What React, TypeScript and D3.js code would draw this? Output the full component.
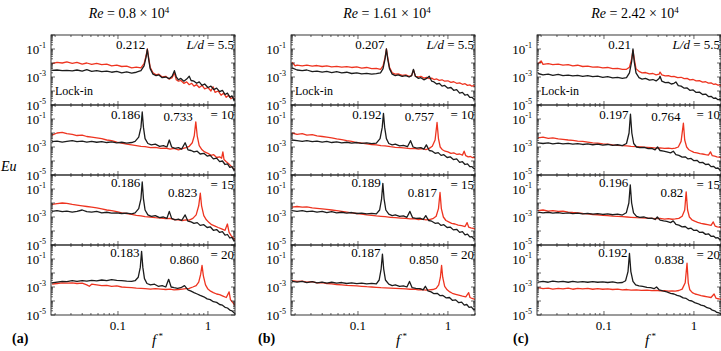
import React from "react";
import * as d3 from "d3";

type Pt = [number, number]; // [f*, log10 Eu]

const reynolds = ["0.8", "1.61", "2.42"];
const panelTags = ["(a)", "(b)", "(c)"];
const spacings = ["5.5", "10", "15", "20"];
const blackPeaks = [
  ["0.212", "0.186", "0.186", "0.183"],
  ["0.207", "0.192", "0.189", "0.187"],
  ["0.21", "0.197", "0.196", "0.192"],
];
const redPeaks = [
  [null, "0.733", "0.823", "0.860"],
  [null, "0.757", "0.817", "0.850"],
  [null, "0.764", "0.82", "0.838"],
];
const xTickLabels = [0.1, 1];
const yTickExps = [-1, -3, -5];

// ---- Re = 0.8e4 ----
const aK55: Pt[] = [[0.0185,-2.52],[0.021,-2.5],[0.024,-2.55],[0.027,-2.52],[0.031,-2.56],[0.035,-2.5],[0.04,-2.58],[0.045,-2.48],[0.051,-2.6],[0.058,-2.55],[0.066,-2.62],[0.075,-2.58],[0.085,-2.66],[0.097,-2.6],[0.11,-2.7],[0.125,-2.64],[0.142,-2.72],[0.16,-2.66],[0.18,-2.55],[0.195,-2.2],[0.205,-1.6],[0.212,-1.02],[0.219,-1.7],[0.228,-2.4],[0.245,-2.8],[0.265,-2.9],[0.285,-2.85],[0.31,-3.05],[0.34,-3.0],[0.37,-3.12],[0.4,-2.95],[0.424,-2.55],[0.445,-3.0],[0.47,-3.2],[0.5,-3.1],[0.54,-3.3],[0.58,-3.15],[0.62,-2.95],[0.65,-3.25],[0.7,-3.3],[0.75,-3.45],[0.8,-3.35],[0.86,-3.6],[0.92,-3.5],[1.0,-3.75],[1.08,-3.65],[1.16,-3.9],[1.25,-3.8],[1.35,-4.05],[1.45,-3.95],[1.55,-4.25],[1.65,-4.15],[1.75,-4.45],[1.85,-4.35],[1.95,-4.65],[2.05,-4.55]];
const aR55: Pt[] = [[0.0185,-2.05],[0.021,-1.95],[0.024,-2.0],[0.027,-1.92],[0.031,-2.02],[0.035,-1.95],[0.04,-2.08],[0.045,-2.0],[0.051,-2.1],[0.058,-2.02],[0.066,-2.12],[0.075,-2.08],[0.085,-2.2],[0.097,-2.15],[0.11,-2.25],[0.125,-2.22],[0.142,-2.35],[0.16,-2.3],[0.18,-2.35],[0.195,-2.05],[0.205,-1.5],[0.212,-1.0],[0.219,-1.6],[0.228,-2.3],[0.245,-2.7],[0.265,-2.85],[0.285,-2.8],[0.31,-3.0],[0.34,-2.95],[0.37,-3.15],[0.4,-3.05],[0.424,-2.7],[0.445,-3.2],[0.47,-3.3],[0.5,-3.25],[0.54,-3.45],[0.58,-3.35],[0.62,-3.55],[0.66,-3.45],[0.7,-3.65],[0.75,-3.55],[0.8,-3.75],[0.86,-3.6],[0.92,-3.85],[1.0,-3.75],[1.08,-4.0],[1.14,-3.7],[1.2,-4.1],[1.3,-4.0],[1.4,-4.3],[1.5,-4.15],[1.6,-4.45],[1.7,-4.3],[1.8,-4.55],[1.9,-4.45],[2.05,-4.7]];
const aK10: Pt[] = [[0.0185,-2.62],[0.021,-2.58],[0.024,-2.65],[0.027,-2.6],[0.031,-2.55],[0.035,-2.62],[0.04,-2.58],[0.045,-2.65],[0.051,-2.6],[0.058,-2.66],[0.066,-2.62],[0.075,-2.68],[0.085,-2.64],[0.097,-2.7],[0.11,-2.66],[0.125,-2.72],[0.142,-2.68],[0.155,-2.6],[0.17,-2.3],[0.18,-1.6],[0.186,-0.5],[0.192,-1.6],[0.2,-2.4],[0.215,-2.75],[0.235,-2.85],[0.26,-2.8],[0.29,-2.95],[0.32,-2.9],[0.35,-3.0],[0.372,-2.5],[0.395,-3.0],[0.43,-3.1],[0.47,-3.05],[0.51,-3.15],[0.558,-2.7],[0.6,-3.2],[0.65,-3.25],[0.7,-3.35],[0.76,-3.3],[0.82,-3.5],[0.9,-3.45],[0.98,-3.65],[1.06,-3.6],[1.15,-3.85],[1.25,-3.8],[1.35,-4.05],[1.45,-4.0],[1.55,-4.25],[1.65,-4.2],[1.75,-4.45],[1.85,-4.4],[1.95,-4.65],[2.05,-4.6]];
const aR10: Pt[] = [[0.0185,-2.15],[0.021,-2.0],[0.024,-1.95],[0.027,-2.05],[0.031,-2.1],[0.035,-2.18],[0.04,-2.15],[0.045,-2.25],[0.051,-2.3],[0.058,-2.35],[0.066,-2.4],[0.075,-2.5],[0.085,-2.55],[0.097,-2.65],[0.11,-2.72],[0.125,-2.8],[0.142,-2.85],[0.16,-2.9],[0.18,-2.95],[0.2,-2.98],[0.23,-3.05],[0.26,-3.02],[0.3,-3.1],[0.34,-3.08],[0.38,-3.15],[0.42,-3.1],[0.47,-3.2],[0.52,-3.12],[0.57,-3.05],[0.62,-2.95],[0.67,-2.7],[0.705,-2.2],[0.733,-1.2],[0.76,-2.2],[0.8,-2.9],[0.86,-3.2],[0.92,-3.35],[1.0,-3.45],[1.08,-3.6],[1.16,-3.55],[1.25,-3.75],[1.35,-3.7],[1.42,-3.8],[1.466,-3.35],[1.51,-3.9],[1.6,-4.05],[1.7,-4.2],[1.8,-4.35],[1.9,-4.5],[2.05,-4.7]];
const aK15: Pt[] = [[0.0185,-2.6],[0.021,-2.55],[0.024,-2.62],[0.027,-2.58],[0.031,-2.65],[0.035,-2.6],[0.04,-2.5],[0.045,-2.62],[0.051,-2.65],[0.058,-2.6],[0.066,-2.7],[0.075,-2.66],[0.085,-2.72],[0.097,-2.7],[0.11,-2.75],[0.125,-2.72],[0.142,-2.78],[0.155,-2.7],[0.17,-2.4],[0.18,-1.7],[0.186,-0.5],[0.192,-1.7],[0.2,-2.5],[0.215,-2.85],[0.235,-2.95],[0.26,-2.9],[0.29,-3.05],[0.32,-3.0],[0.35,-3.1],[0.372,-2.6],[0.395,-3.1],[0.43,-3.2],[0.47,-3.15],[0.51,-3.25],[0.558,-2.85],[0.6,-3.3],[0.65,-3.35],[0.7,-3.45],[0.76,-3.4],[0.82,-3.6],[0.9,-3.55],[0.98,-3.75],[1.06,-3.7],[1.15,-3.95],[1.25,-3.9],[1.35,-4.1],[1.45,-4.05],[1.55,-4.3],[1.65,-4.25],[1.75,-4.5],[1.85,-4.45],[1.95,-4.7],[2.05,-4.65]];
const aR15: Pt[] = [[0.0185,-2.1],[0.021,-2.05],[0.024,-2.0],[0.027,-2.02],[0.031,-2.1],[0.035,-2.15],[0.04,-2.2],[0.045,-2.25],[0.051,-2.3],[0.058,-2.35],[0.066,-2.42],[0.075,-2.5],[0.085,-2.55],[0.097,-2.62],[0.11,-2.7],[0.125,-2.75],[0.142,-2.82],[0.16,-2.88],[0.18,-2.92],[0.2,-2.97],[0.23,-3.0],[0.26,-3.05],[0.3,-3.08],[0.34,-3.12],[0.38,-3.1],[0.42,-3.18],[0.47,-3.2],[0.52,-3.25],[0.57,-3.2],[0.62,-3.22],[0.68,-3.1],[0.74,-2.85],[0.79,-2.2],[0.823,-1.3],[0.85,-2.2],[0.9,-2.9],[0.96,-3.2],[1.03,-3.4],[1.1,-3.55],[1.2,-3.65],[1.3,-3.75],[1.42,-3.85],[1.55,-3.95],[1.646,-3.5],[1.72,-4.1],[1.82,-4.35],[1.92,-4.5],[2.05,-4.7]];
const aK20: Pt[] = [[0.0185,-2.7],[0.021,-2.65],[0.024,-2.6],[0.027,-2.62],[0.031,-2.55],[0.035,-2.6],[0.04,-2.55],[0.045,-2.58],[0.051,-2.52],[0.058,-2.56],[0.066,-2.5],[0.075,-2.55],[0.085,-2.48],[0.097,-2.52],[0.11,-2.55],[0.125,-2.58],[0.142,-2.6],[0.155,-2.55],[0.168,-2.3],[0.177,-1.6],[0.183,-0.45],[0.189,-1.6],[0.197,-2.4],[0.21,-2.75],[0.23,-2.85],[0.255,-2.8],[0.28,-2.95],[0.31,-2.9],[0.34,-3.0],[0.366,-2.45],[0.39,-3.0],[0.42,-3.05],[0.46,-3.1],[0.5,-3.05],[0.549,-2.9],[0.6,-3.2],[0.65,-3.3],[0.7,-3.4],[0.76,-3.5],[0.82,-3.6],[0.9,-3.7],[0.98,-3.85],[1.06,-3.9],[1.15,-4.05],[1.25,-4.1],[1.35,-4.25],[1.45,-4.3],[1.55,-4.45],[1.65,-4.5],[1.75,-4.65],[1.85,-4.7],[1.95,-4.85],[2.05,-4.9]];
const aR20: Pt[] = [[0.0185,-2.8],[0.021,-2.75],[0.024,-2.7],[0.027,-2.72],[0.031,-2.7],[0.035,-2.75],[0.04,-2.72],[0.045,-2.85],[0.048,-2.95],[0.051,-2.8],[0.058,-2.85],[0.066,-2.9],[0.075,-2.88],[0.085,-2.95],[0.097,-2.92],[0.11,-3.0],[0.125,-3.02],[0.142,-3.05],[0.16,-3.08],[0.18,-3.1],[0.2,-3.12],[0.23,-3.15],[0.26,-3.12],[0.3,-3.15],[0.34,-3.18],[0.38,-3.15],[0.42,-3.2],[0.47,-3.18],[0.52,-3.15],[0.57,-3.12],[0.62,-3.1],[0.68,-3.0],[0.74,-2.9],[0.79,-2.65],[0.83,-2.1],[0.86,-1.45],[0.89,-2.2],[0.94,-2.85],[1.0,-3.15],[1.07,-3.3],[1.15,-3.4],[1.25,-3.5],[1.35,-3.55],[1.47,-3.65],[1.6,-3.75],[1.72,-3.35],[1.78,-3.9],[1.88,-4.1],[1.97,-4.25],[2.05,-4.35]];

// ---- Re = 1.61e4 ----
const bK55: Pt[] = [[0.0185,-2.35],[0.021,-2.5],[0.024,-2.55],[0.027,-2.5],[0.031,-2.62],[0.035,-2.58],[0.04,-2.65],[0.045,-2.6],[0.051,-2.68],[0.058,-2.62],[0.066,-2.7],[0.075,-2.66],[0.085,-2.75],[0.097,-2.7],[0.11,-2.78],[0.125,-2.74],[0.142,-2.8],[0.16,-2.76],[0.178,-2.7],[0.19,-2.4],[0.2,-1.7],[0.207,-1.0],[0.214,-1.7],[0.224,-2.4],[0.24,-2.8],[0.26,-2.9],[0.28,-2.85],[0.31,-2.95],[0.34,-2.9],[0.37,-3.0],[0.395,-2.9],[0.414,-2.45],[0.435,-2.95],[0.47,-3.1],[0.5,-3.05],[0.54,-3.2],[0.58,-3.1],[0.62,-2.95],[0.66,-3.3],[0.7,-3.35],[0.75,-3.5],[0.8,-3.45],[0.86,-3.65],[0.92,-3.6],[1.0,-3.8],[1.08,-3.75],[1.16,-3.95],[1.25,-3.9],[1.35,-4.15],[1.45,-4.1],[1.55,-4.3],[1.65,-4.25],[1.75,-4.45],[1.85,-4.45],[1.95,-4.6],[2.05,-4.6]];
const bR55: Pt[] = [[0.0185,-1.95],[0.02,-2.2],[0.021,-2.15],[0.024,-2.2],[0.027,-2.15],[0.031,-2.22],[0.035,-2.18],[0.04,-2.25],[0.045,-2.2],[0.051,-2.28],[0.058,-2.24],[0.066,-2.3],[0.075,-2.26],[0.085,-2.32],[0.097,-2.28],[0.11,-2.36],[0.125,-2.32],[0.142,-2.4],[0.16,-2.38],[0.178,-2.45],[0.19,-2.2],[0.2,-1.6],[0.207,-1.0],[0.214,-1.6],[0.224,-2.3],[0.24,-2.7],[0.26,-2.8],[0.28,-2.78],[0.31,-2.88],[0.34,-2.85],[0.37,-2.95],[0.395,-2.9],[0.414,-2.5],[0.435,-2.95],[0.47,-3.0],[0.5,-2.95],[0.54,-3.08],[0.58,-3.02],[0.62,-3.12],[0.66,-3.08],[0.7,-3.18],[0.75,-3.14],[0.8,-3.24],[0.86,-3.2],[0.92,-3.3],[1.0,-3.27],[1.08,-3.38],[1.16,-3.34],[1.25,-3.45],[1.35,-3.42],[1.45,-3.52],[1.55,-3.48],[1.65,-3.6],[1.75,-3.56],[1.85,-3.66],[1.95,-3.62],[2.05,-3.72]];
const bK10: Pt[] = [[0.0185,-2.5],[0.021,-2.55],[0.024,-2.6],[0.027,-2.55],[0.031,-2.62],[0.035,-2.58],[0.04,-2.65],[0.045,-2.6],[0.051,-2.68],[0.058,-2.64],[0.066,-2.7],[0.075,-2.66],[0.085,-2.72],[0.097,-2.68],[0.11,-2.74],[0.125,-2.7],[0.142,-2.76],[0.16,-2.72],[0.176,-2.4],[0.186,-1.6],[0.192,-0.6],[0.198,-1.6],[0.207,-2.4],[0.22,-2.75],[0.24,-2.85],[0.26,-2.8],[0.29,-2.92],[0.32,-2.88],[0.355,-2.98],[0.384,-2.55],[0.41,-3.0],[0.45,-3.08],[0.5,-3.05],[0.54,-3.15],[0.576,-2.85],[0.62,-3.25],[0.67,-3.3],[0.72,-3.45],[0.78,-3.4],[0.84,-3.6],[0.9,-3.55],[0.98,-3.75],[1.06,-3.7],[1.15,-3.9],[1.25,-3.85],[1.35,-4.1],[1.45,-4.05],[1.55,-4.25],[1.65,-4.2],[1.75,-4.4],[1.85,-4.4],[1.95,-4.55],[2.05,-4.6]];
const bR10: Pt[] = [[0.0185,-2.0],[0.021,-2.1],[0.024,-2.05],[0.027,-2.15],[0.031,-2.12],[0.035,-2.2],[0.04,-2.25],[0.045,-2.3],[0.051,-2.35],[0.058,-2.42],[0.066,-2.48],[0.075,-2.55],[0.085,-2.6],[0.097,-2.68],[0.11,-2.72],[0.125,-2.78],[0.142,-2.82],[0.16,-2.85],[0.18,-2.9],[0.2,-2.92],[0.23,-2.98],[0.26,-3.02],[0.3,-3.05],[0.34,-3.08],[0.38,-3.12],[0.42,-3.1],[0.47,-3.15],[0.52,-3.12],[0.57,-3.18],[0.62,-3.1],[0.67,-2.95],[0.72,-2.5],[0.757,-1.25],[0.785,-2.4],[0.82,-3.0],[0.87,-3.2],[0.93,-3.3],[1.0,-3.35],[1.08,-3.45],[1.16,-3.42],[1.25,-3.52],[1.35,-3.5],[1.45,-3.58],[1.514,-3.3],[1.58,-3.62],[1.68,-3.7],[1.78,-3.68],[1.88,-3.76],[1.97,-3.74],[2.05,-3.8]];
const bK15: Pt[] = [[0.0185,-2.55],[0.021,-2.6],[0.024,-2.55],[0.027,-2.62],[0.031,-2.58],[0.035,-2.65],[0.04,-2.6],[0.045,-2.68],[0.051,-2.62],[0.058,-2.7],[0.066,-2.66],[0.075,-2.72],[0.085,-2.68],[0.097,-2.75],[0.11,-2.72],[0.125,-2.78],[0.142,-2.74],[0.16,-2.78],[0.174,-2.5],[0.183,-1.7],[0.189,-0.6],[0.195,-1.7],[0.204,-2.5],[0.22,-2.8],[0.24,-2.9],[0.26,-2.85],[0.29,-2.95],[0.32,-2.92],[0.35,-3.02],[0.378,-2.6],[0.405,-3.05],[0.44,-3.1],[0.49,-3.08],[0.53,-3.18],[0.567,-2.9],[0.61,-3.25],[0.66,-3.3],[0.72,-3.45],[0.78,-3.42],[0.84,-3.6],[0.9,-3.55],[0.98,-3.75],[1.06,-3.72],[1.15,-3.92],[1.25,-3.88],[1.35,-4.1],[1.45,-4.05],[1.55,-4.28],[1.65,-4.22],[1.75,-4.42],[1.85,-4.4],[1.95,-4.58],[2.05,-4.6]];
const bR15: Pt[] = [[0.0185,-2.3],[0.021,-2.25],[0.024,-2.3],[0.027,-2.28],[0.031,-2.35],[0.035,-2.38],[0.04,-2.42],[0.045,-2.45],[0.051,-2.5],[0.058,-2.55],[0.066,-2.6],[0.075,-2.65],[0.085,-2.7],[0.097,-2.75],[0.11,-2.8],[0.125,-2.85],[0.142,-2.88],[0.16,-2.92],[0.18,-2.95],[0.2,-2.98],[0.23,-3.02],[0.26,-3.05],[0.3,-3.08],[0.34,-3.1],[0.38,-3.14],[0.42,-3.12],[0.47,-3.18],[0.52,-3.15],[0.57,-3.2],[0.62,-3.18],[0.68,-3.12],[0.74,-2.95],[0.785,-2.4],[0.817,-1.25],[0.845,-2.4],[0.89,-3.0],[0.95,-3.25],[1.02,-3.35],[1.1,-3.45],[1.2,-3.5],[1.3,-3.58],[1.42,-3.62],[1.55,-3.68],[1.634,-3.4],[1.7,-3.72],[1.8,-3.78],[1.9,-3.82],[2.05,-3.88]];
const bK20: Pt[] = [[0.0185,-2.6],[0.021,-2.65],[0.024,-2.6],[0.027,-2.68],[0.031,-2.62],[0.035,-2.7],[0.04,-2.65],[0.045,-2.72],[0.051,-2.66],[0.058,-2.72],[0.066,-2.68],[0.075,-2.75],[0.085,-2.7],[0.097,-2.76],[0.11,-2.72],[0.125,-2.78],[0.142,-2.74],[0.16,-2.78],[0.172,-2.5],[0.181,-1.7],[0.187,-0.65],[0.193,-1.7],[0.202,-2.5],[0.22,-2.8],[0.24,-2.9],[0.26,-2.85],[0.29,-2.95],[0.32,-2.92],[0.35,-3.0],[0.374,-2.6],[0.4,-3.05],[0.44,-3.1],[0.49,-3.12],[0.53,-3.2],[0.561,-2.95],[0.6,-3.28],[0.65,-3.35],[0.7,-3.48],[0.76,-3.45],[0.82,-3.62],[0.88,-3.6],[0.96,-3.78],[1.04,-3.75],[1.12,-3.95],[1.22,-3.92],[1.32,-4.12],[1.42,-4.08],[1.52,-4.3],[1.62,-4.25],[1.72,-4.45],[1.82,-4.42],[1.92,-4.6],[2.05,-4.62]];
const bR20: Pt[] = [[0.0185,-2.55],[0.021,-2.6],[0.024,-2.58],[0.027,-2.65],[0.031,-2.62],[0.035,-2.7],[0.04,-2.68],[0.045,-2.75],[0.051,-2.78],[0.058,-2.82],[0.066,-2.85],[0.075,-2.88],[0.085,-2.9],[0.097,-2.92],[0.11,-2.95],[0.125,-2.98],[0.142,-3.0],[0.16,-3.02],[0.18,-3.05],[0.2,-3.06],[0.23,-3.08],[0.26,-3.1],[0.3,-3.12],[0.34,-3.14],[0.38,-3.16],[0.42,-3.15],[0.47,-3.2],[0.52,-3.18],[0.57,-3.22],[0.62,-3.2],[0.68,-3.18],[0.74,-3.1],[0.79,-2.85],[0.825,-2.3],[0.85,-1.45],[0.875,-2.3],[0.92,-2.95],[0.98,-3.2],[1.05,-3.35],[1.12,-3.45],[1.22,-3.52],[1.32,-3.58],[1.45,-3.65],[1.58,-3.7],[1.7,-3.4],[1.76,-3.75],[1.86,-3.82],[1.96,-3.86],[2.05,-3.9]];

// ---- Re = 2.42e4 ----
const cK55: Pt[] = [[0.0185,-2.75],[0.021,-2.85],[0.024,-2.8],[0.027,-2.88],[0.031,-2.82],[0.035,-2.9],[0.04,-2.86],[0.045,-2.92],[0.051,-2.88],[0.058,-2.95],[0.066,-2.9],[0.075,-2.98],[0.085,-2.94],[0.097,-3.02],[0.11,-2.98],[0.125,-3.06],[0.142,-3.02],[0.16,-3.1],[0.178,-3.05],[0.192,-2.7],[0.203,-1.9],[0.21,-1.0],[0.217,-1.9],[0.227,-2.7],[0.245,-3.05],[0.265,-3.15],[0.29,-3.1],[0.32,-3.22],[0.35,-3.18],[0.38,-3.28],[0.41,-3.1],[0.42,-2.95],[0.44,-3.3],[0.48,-3.4],[0.52,-3.38],[0.56,-3.5],[0.6,-3.45],[0.63,-3.35],[0.67,-3.62],[0.72,-3.65],[0.78,-3.8],[0.84,-3.78],[0.9,-3.95],[0.98,-3.92],[1.06,-4.1],[1.15,-4.08],[1.25,-4.25],[1.35,-4.22],[1.45,-4.4],[1.55,-4.38],[1.65,-4.52],[1.75,-4.5],[1.85,-4.62],[1.95,-4.6],[2.05,-4.7]];
const cR55: Pt[] = [[0.0185,-2.05],[0.02,-1.85],[0.021,-2.1],[0.024,-2.05],[0.027,-2.12],[0.031,-2.08],[0.035,-2.15],[0.04,-2.12],[0.045,-2.2],[0.051,-2.16],[0.058,-2.25],[0.066,-2.22],[0.075,-2.3],[0.085,-2.28],[0.097,-2.35],[0.11,-2.32],[0.125,-2.4],[0.142,-2.38],[0.16,-2.45],[0.178,-2.45],[0.192,-2.3],[0.203,-1.7],[0.21,-1.1],[0.217,-1.7],[0.227,-2.4],[0.245,-2.6],[0.265,-2.7],[0.29,-2.68],[0.32,-2.78],[0.35,-2.75],[0.38,-2.85],[0.41,-2.8],[0.42,-2.65],[0.44,-2.85],[0.48,-2.92],[0.52,-2.9],[0.56,-2.98],[0.6,-2.95],[0.66,-3.05],[0.72,-3.02],[0.78,-3.12],[0.84,-3.1],[0.9,-3.2],[0.98,-3.18],[1.06,-3.28],[1.15,-3.26],[1.25,-3.36],[1.35,-3.34],[1.45,-3.44],[1.55,-3.42],[1.65,-3.52],[1.75,-3.5],[1.85,-3.58],[1.95,-3.56],[2.05,-3.64]];
const cK10: Pt[] = [[0.0185,-2.7],[0.021,-2.75],[0.024,-2.7],[0.027,-2.78],[0.031,-2.72],[0.035,-2.78],[0.04,-2.74],[0.045,-2.8],[0.051,-2.76],[0.058,-2.82],[0.066,-2.78],[0.075,-2.84],[0.085,-2.8],[0.097,-2.86],[0.11,-2.82],[0.125,-2.88],[0.142,-2.84],[0.16,-2.9],[0.178,-2.75],[0.19,-2.0],[0.197,-0.65],[0.204,-2.0],[0.214,-2.75],[0.23,-3.0],[0.25,-3.05],[0.28,-3.02],[0.31,-3.12],[0.34,-3.1],[0.37,-3.2],[0.394,-3.0],[0.42,-3.25],[0.46,-3.3],[0.5,-3.35],[0.55,-3.42],[0.59,-3.3],[0.63,-3.55],[0.68,-3.6],[0.74,-3.72],[0.8,-3.7],[0.86,-3.85],[0.93,-3.82],[1.0,-3.98],[1.08,-3.95],[1.16,-4.12],[1.25,-4.1],[1.35,-4.25],[1.45,-4.22],[1.55,-4.4],[1.65,-4.38],[1.75,-4.52],[1.85,-4.5],[1.95,-4.65],[2.05,-4.65]];
const cR10: Pt[] = [[0.0185,-2.35],[0.021,-2.3],[0.024,-2.38],[0.027,-2.35],[0.031,-2.42],[0.035,-2.45],[0.04,-2.5],[0.045,-2.52],[0.051,-2.58],[0.058,-2.6],[0.066,-2.65],[0.075,-2.7],[0.085,-2.72],[0.097,-2.78],[0.11,-2.8],[0.125,-2.85],[0.142,-2.88],[0.16,-2.9],[0.18,-2.92],[0.2,-2.95],[0.23,-2.98],[0.26,-3.0],[0.3,-3.02],[0.34,-3.05],[0.38,-3.08],[0.42,-3.06],[0.47,-3.1],[0.52,-3.08],[0.57,-3.12],[0.62,-3.08],[0.67,-3.0],[0.72,-2.6],[0.764,-1.3],[0.79,-2.5],[0.83,-3.0],[0.88,-3.2],[0.94,-3.3],[1.0,-3.38],[1.08,-3.42],[1.16,-3.48],[1.25,-3.5],[1.35,-3.55],[1.45,-3.58],[1.528,-3.35],[1.6,-3.62],[1.7,-3.66],[1.8,-3.7],[1.9,-3.72],[2.05,-3.78]];
const cK15: Pt[] = [[0.0185,-2.65],[0.021,-2.7],[0.024,-2.66],[0.027,-2.72],[0.031,-2.68],[0.035,-2.74],[0.04,-2.7],[0.045,-2.76],[0.051,-2.72],[0.058,-2.78],[0.066,-2.74],[0.075,-2.8],[0.085,-2.76],[0.097,-2.82],[0.11,-2.78],[0.125,-2.84],[0.142,-2.8],[0.16,-2.86],[0.177,-2.7],[0.189,-2.0],[0.196,-0.7],[0.203,-2.0],[0.213,-2.7],[0.23,-2.95],[0.25,-3.02],[0.28,-3.0],[0.31,-3.1],[0.34,-3.08],[0.37,-3.18],[0.392,-3.0],[0.42,-3.22],[0.46,-3.28],[0.5,-3.32],[0.55,-3.4],[0.588,-3.28],[0.63,-3.52],[0.68,-3.58],[0.74,-3.7],[0.8,-3.68],[0.86,-3.84],[0.93,-3.8],[1.0,-3.96],[1.08,-3.94],[1.16,-4.1],[1.25,-4.08],[1.35,-4.24],[1.45,-4.2],[1.55,-4.38],[1.65,-4.36],[1.75,-4.5],[1.85,-4.48],[1.95,-4.62],[2.05,-4.62]];
const cR15: Pt[] = [[0.0185,-2.55],[0.021,-2.5],[0.024,-2.58],[0.027,-2.55],[0.031,-2.6],[0.035,-2.58],[0.04,-2.65],[0.045,-2.68],[0.051,-2.7],[0.058,-2.75],[0.066,-2.78],[0.075,-2.82],[0.085,-2.84],[0.097,-2.88],[0.11,-2.9],[0.125,-2.94],[0.142,-2.96],[0.16,-2.98],[0.18,-3.0],[0.2,-3.02],[0.23,-3.05],[0.26,-3.06],[0.3,-3.08],[0.34,-3.1],[0.38,-3.12],[0.42,-3.1],[0.47,-3.15],[0.52,-3.12],[0.57,-3.16],[0.62,-3.14],[0.68,-3.1],[0.74,-2.95],[0.79,-2.5],[0.82,-1.2],[0.85,-2.5],[0.89,-3.0],[0.95,-3.2],[1.02,-3.3],[1.1,-3.38],[1.2,-3.45],[1.3,-3.5],[1.42,-3.55],[1.55,-3.6],[1.64,-3.35],[1.72,-3.65],[1.82,-3.7],[1.92,-3.72],[2.05,-3.78]];
const cK20: Pt[] = [[0.0185,-2.65],[0.021,-2.6],[0.024,-2.66],[0.027,-2.58],[0.031,-2.64],[0.035,-2.6],[0.04,-2.66],[0.045,-2.6],[0.051,-2.65],[0.058,-2.62],[0.066,-2.66],[0.075,-2.62],[0.085,-2.66],[0.097,-2.64],[0.11,-2.68],[0.125,-2.64],[0.142,-2.7],[0.16,-2.68],[0.174,-2.55],[0.185,-1.9],[0.192,-0.6],[0.199,-1.9],[0.21,-2.6],[0.225,-2.85],[0.245,-2.92],[0.27,-2.95],[0.3,-3.02],[0.33,-3.05],[0.36,-3.12],[0.384,-3.0],[0.41,-3.2],[0.45,-3.28],[0.5,-3.35],[0.55,-3.45],[0.6,-3.5],[0.65,-3.6],[0.7,-3.65],[0.76,-3.78],[0.82,-3.82],[0.88,-3.95],[0.95,-4.0],[1.02,-4.12],[1.1,-4.18],[1.2,-4.3],[1.3,-4.35],[1.4,-4.48],[1.5,-4.52],[1.6,-4.65],[1.7,-4.7],[1.8,-4.82],[1.9,-4.85],[2.05,-4.95]];
const cR20: Pt[] = [[0.0185,-3.05],[0.021,-3.12],[0.024,-3.08],[0.027,-3.15],[0.031,-3.1],[0.035,-3.14],[0.04,-3.08],[0.045,-3.16],[0.051,-3.1],[0.058,-3.14],[0.066,-3.1],[0.075,-3.16],[0.085,-3.12],[0.097,-3.16],[0.11,-3.14],[0.125,-3.18],[0.142,-3.15],[0.16,-3.2],[0.18,-3.18],[0.2,-3.22],[0.23,-3.2],[0.26,-3.24],[0.3,-3.22],[0.34,-3.26],[0.38,-3.24],[0.42,-3.28],[0.47,-3.26],[0.52,-3.3],[0.57,-3.28],[0.62,-3.3],[0.68,-3.25],[0.74,-3.15],[0.8,-2.7],[0.838,-1.3],[0.865,-2.7],[0.9,-3.2],[0.96,-3.4],[1.03,-3.5],[1.1,-3.55],[1.2,-3.62],[1.3,-3.66],[1.42,-3.7],[1.55,-3.75],[1.676,-3.5],[1.76,-3.8],[1.86,-3.84],[1.96,-3.86],[2.05,-3.9]];

const spectra: [Pt[], Pt[]][][] = [
  [[aK55, aR55], [aK10, aR10], [aK15, aR15], [aK20, aR20]],
  [[bK55, bR55], [bK10, bR10], [bK15, bR15], [bK20, bR20]],
  [[cK55, cR55], [cK10, cR10], [cK15, cR15], [cK20, cR20]],
];

// layout
const W = 721;
const H = 351;
const panelLeft = [51, 291, 537];
const panelW = 184;
const plotTop = 35;
const rowH = 70;
const titleX = [129, 387, 635];
const tagX = [12, 258, 513];
const fX = [152, 396, 645];
const blackLabelDy = [14, 14, 12, 12];
const redLabelDy = [0, 16, 22, 19];
const BLACK = "#1c1c1c";
const RED = "#ee3420";
const FONT = '"Liberation Serif", "Times New Roman", "DejaVu Serif", serif';

export default function App() {
  return (
    <svg
      width={W}
      height={H}
      style={{ position: "absolute", left: 0, top: 0, background: "#fff", fontFamily: FONT }}
    >
      <rect width={W} height={H} fill="#fff" />
      <text x={1} y={171} fontSize={14} fontStyle="italic">
        Eu
      </text>
      {spectra.map((col, ci) => {
        const left = panelLeft[ci];
        const right = left + panelW;
        const x = d3.scaleLog().domain([0.018, 2.0]).range([left, right]);
        const xt = x.ticks();
        const bottom = plotTop + rowH * col.length;
        return (
          <g key={ci}>
            <text x={titleX[ci]} y={18} fontSize={14} textAnchor="middle">
              <tspan fontStyle="italic">Re</tspan> = {reynolds[ci]} × 10
              <tspan dy={-5} fontSize={9}>4</tspan>
            </text>
            {col.map(([blk, red], ri) => {
              const y0 = plotTop + ri * rowH;
              const y = d3.scaleLog().domain([1e-5, 1]).range([y0 + rowH, y0]);
              const yt = y.ticks();
              const line = d3
                .line<Pt>()
                .x((d) => x(d[0]))
                .y((d) => y(Math.pow(10, d[1])));
              const clipId = `clip-${ci}-${ri}`;
              const bPeak = blackPeaks[ci][ri];
              const rPeak = redPeaks[ci][ri];
              return (
                <g key={ri}>
                  <clipPath id={clipId}>
                    <rect x={left} y={y0} width={panelW} height={rowH} />
                  </clipPath>
                  <g clipPath={`url(#${clipId})`} fill="none" strokeWidth={1.3} strokeLinejoin="round">
                    <path d={line(red) ?? ""} stroke={RED} />
                    <path d={line(blk) ?? ""} stroke={BLACK} />
                  </g>
                  <rect x={left} y={y0} width={panelW} height={rowH} fill="none" stroke="#222" strokeWidth={0.9} />
                  {yt.map((v, k) => {
                    const major = Math.abs(Math.log10(v) - Math.round(Math.log10(v))) < 1e-6;
                    const len = major ? 4 : 2;
                    return (
                      <g key={k} stroke="#222" strokeWidth={0.7}>
                        <line x1={left} x2={left + len} y1={y(v)} y2={y(v)} />
                        <line x1={right} x2={right - len} y1={y(v)} y2={y(v)} />
                      </g>
                    );
                  })}
                  {xt.map((v, k) => {
                    const major = Math.abs(Math.log10(v) - Math.round(Math.log10(v))) < 1e-6;
                    const len = major ? 4 : 2;
                    return (
                      <g key={k} stroke="#222" strokeWidth={0.7}>
                        <line x1={x(v)} x2={x(v)} y1={y0 + rowH} y2={y0 + rowH - len} />
                        <line x1={x(v)} x2={x(v)} y1={y0} y2={y0 + len} />
                      </g>
                    );
                  })}
                  {yTickExps.map((e) => (
                    <text key={e} x={left - 5} y={y(Math.pow(10, e)) + 5} fontSize={13} textAnchor="end">
                      10<tspan dy={-6} fontSize={8}>{e}</tspan>
                    </text>
                  ))}
                  <text x={x(parseFloat(bPeak)) - 2} y={y0 + blackLabelDy[ri]} fontSize={13} textAnchor="end">
                    {bPeak}
                  </text>
                  {rPeak && (
                    <text x={x(parseFloat(rPeak)) - 3} y={y0 + redLabelDy[ri]} fontSize={13} textAnchor="end">
                      {rPeak}
                    </text>
                  )}
                  <text x={right - 1} y={y0 + 14} fontSize={13} textAnchor="end">
                    {ri === 0 && <tspan fontStyle="italic">L/d</tspan>}
                    {ri === 0 ? ` = ${spacings[ri]}` : `= ${spacings[ri]}`}
                  </text>
                  {ri === 0 && (
                    <text x={left + 4} y={y0 + rowH - 10} fontSize={12}>
                      Lock-in
                    </text>
                  )}
                </g>
              );
            })}
            {xTickLabels.map((v) => (
              <text key={v} x={x(v)} y={bottom + 15} fontSize={13} textAnchor="middle">
                {v}
              </text>
            ))}
            <text x={tagX[ci]} y={343} fontSize={14} fontWeight="bold">
              {panelTags[ci]}
            </text>
            <text x={fX[ci]} y={345} fontSize={15} fontStyle="italic">
              f<tspan dy={-6} fontSize={9} fontStyle="normal"> *</tspan>
            </text>
          </g>
        );
      })}
    </svg>
  );
}
